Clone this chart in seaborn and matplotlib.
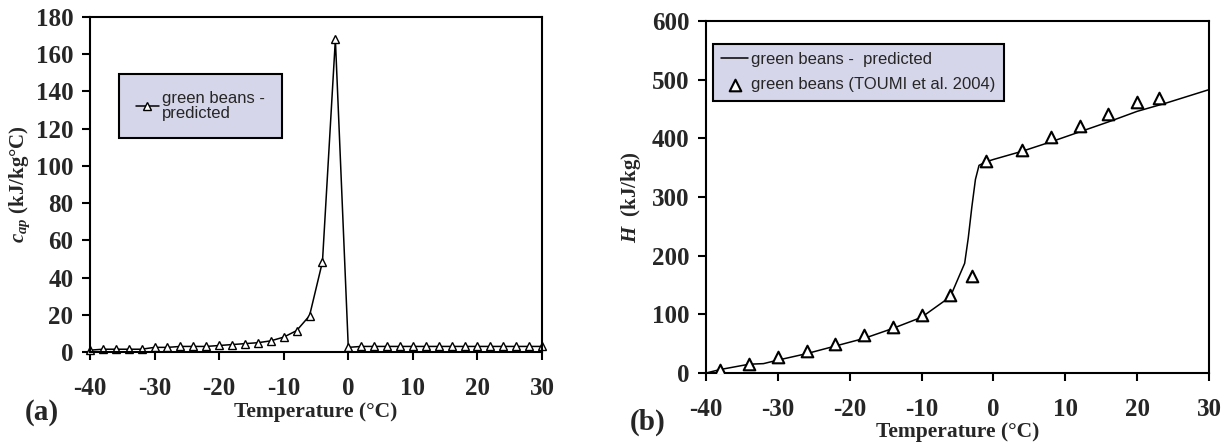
import numpy as np
import pandas as pd
import seaborn as sns
import matplotlib.pyplot as plt

# (a) apparent specific heat of green beans, predicted every 2 degC
temp_a = [-40, -38, -36, -34, -32, -30, -28, -26, -24, -22, -20, -18,
          -16, -14, -12, -10, -8, -6, -4, -2, 0, 2, 4, 6, 8, 10, 12, 14,
          16, 18, 20, 22, 24, 26, 28, 30]
cap_a = [1, 1.5, 1.5, 1.5, 1.5, 2.5, 2.5, 3, 3, 3, 3.5, 4,
         4.5, 5, 6, 8, 11.5, 19.5, 48.5, 168, 2.5, 3, 3, 3, 3, 3, 3, 3,
         3, 3, 3, 3, 3, 3, 3, 3]

# (b) enthalpy, predicted curve
temp_b_pred = [-40, -38, -34, -32, -30, -26, -22, -18, -14, -10, -6, -4,
               -3.5, -3, -2.5, -2, -1, 0, 4, 8, 12, 16, 20, 24, 30]
h_b_pred = [0, 6, 15, 16, 22, 33, 46, 59, 76, 95, 130, 187,
            230, 283, 330, 354, 360, 364, 378, 394, 411, 428, 446, 460, 483]

# (b) enthalpy, measured (TOUMI et al. 2004)
temp_b_exp = [-38, -34, -30, -26, -22, -18, -14, -10, -6, -3, -1,
              4, 8, 12, 16, 20, 23]
h_b_exp = [5, 15, 28, 38, 50, 65, 79, 99, 133, 165, 362,
           380, 402, 421, 441, 462, 468]

sns.set_style('white')
plt.rcParams['font.family'] = ['Liberation Serif', 'DejaVu Serif']
plt.rcParams['font.weight'] = 'bold'
plt.rcParams['axes.labelweight'] = 'bold'
plt.rcParams['axes.unicode_minus'] = False
plt.rcParams['mathtext.fontset'] = 'custom'
plt.rcParams['mathtext.rm'] = 'Liberation Serif:bold'
plt.rcParams['mathtext.it'] = 'Liberation Serif:italic:bold'
plt.rcParams['mathtext.bf'] = 'Liberation Serif:bold'

legend_bg = '#d6d6ea'
legend_font = {'family': 'Liberation Sans', 'size': 12, 'weight': 'normal'}

fig = plt.figure(figsize=(12.31, 4.47), dpi=100)
ax_a = fig.add_axes([0.0731, 0.2125, 0.3672, 0.7494])
ax_b = fig.add_axes([0.5735, 0.1655, 0.4086, 0.7875])

df_a = pd.DataFrame({'T': temp_a, 'cap': cap_a})
df_pred = pd.DataFrame({'T': temp_b_pred, 'H': h_b_pred})
df_exp = pd.DataFrame({'T': temp_b_exp, 'H': h_b_exp})

# panel (a)
sns.lineplot(data=df_a, x='T', y='cap', ax=ax_a, color='black', linewidth=1.1,
             marker='^', markersize=6, markerfacecolor='white',
             markeredgecolor='black', markeredgewidth=1.0, clip_on=False,
             label='green beans -\npredicted')
ax_a.set_xlim(-40, 30)
ax_a.set_ylim(0, 180)
ax_a.set_xticks(np.arange(-40, 31, 10))
ax_a.set_yticks(np.arange(0, 181, 20))
ax_a.set_xlabel('Temperature (°C)', fontsize=15.5, fontweight='bold')
ax_a.set_ylabel(r'$c_{ap}$ (kJ/kg°C)', fontsize=15, fontweight='bold')
ax_a.xaxis.set_label_coords(0.5, -0.15)
ax_a.yaxis.set_label_coords(-0.128, 0.5)

h, l = ax_a.get_legend_handles_labels()
leg_a = ax_a.legend(h, l, loc='upper left', bbox_to_anchor=(0.064, 0.830),
                    borderaxespad=0, prop=legend_font, frameon=True,
                    fancybox=False, facecolor=legend_bg, edgecolor='black',
                    framealpha=1, borderpad=1.0, handlelength=1.4,
                    handletextpad=0.2)
leg_a.get_frame().set_linewidth(1.5)
for t in leg_a.get_texts():
    t.set_linespacing(1.05)

# panel (b)
sns.lineplot(data=df_pred, x='T', y='H', ax=ax_b, color='black', linewidth=1.1,
             label='green beans -  predicted')
sns.scatterplot(data=df_exp, x='T', y='H', ax=ax_b, marker='^', s=70,
                facecolor='white', edgecolor='black', linewidth=1.5,
                zorder=3, label='green beans (TOUMI et al. 2004)')
ax_b.set_xlim(-40, 30)
ax_b.set_ylim(0, 600)
ax_b.set_xticks(np.arange(-40, 31, 10))
ax_b.set_yticks(np.arange(0, 601, 100))
ax_b.set_xlabel('Temperature (°C)', fontsize=15.5, fontweight='bold')
ax_b.set_ylabel(r'$H$  (kJ/kg)', fontsize=15, fontweight='bold')
ax_b.xaxis.set_label_coords(0.5, -0.14)
ax_b.yaxis.set_label_coords(-0.125, 0.5)

h, l = ax_b.get_legend_handles_labels()
leg_b = ax_b.legend(h, l, loc='upper left', bbox_to_anchor=(0.0139, 0.9347),
                    borderaxespad=0, prop=legend_font, frameon=True,
                    fancybox=False, facecolor=legend_bg, edgecolor='black',
                    framealpha=1, borderpad=0.5, labelspacing=0.6,
                    handlelength=1.6, handletextpad=0.2, scatterpoints=1)
leg_b.get_frame().set_linewidth(1.5)

for ax in (ax_a, ax_b):
    for side in ['left', 'right', 'top', 'bottom']:
        ax.spines[side].set_visible(True)
        ax.spines[side].set_color('black')
        ax.spines[side].set_linewidth(1.5)
    ax.tick_params(axis='both', direction='out', length=6, width=1.5,
                   color='black', labelsize=18, bottom=True, left=True)
    ax.tick_params(axis='x', pad=12)
    ax.tick_params(axis='y', pad=6)

fig.text(42 / 1231, 1 - 413 / 447, '(a)', fontsize=21, ha='center', va='center')
fig.text(648 / 1231, 1 - 422 / 447, '(b)', fontsize=21, ha='center', va='center')

fig.savefig('out.png', dpi=100)
